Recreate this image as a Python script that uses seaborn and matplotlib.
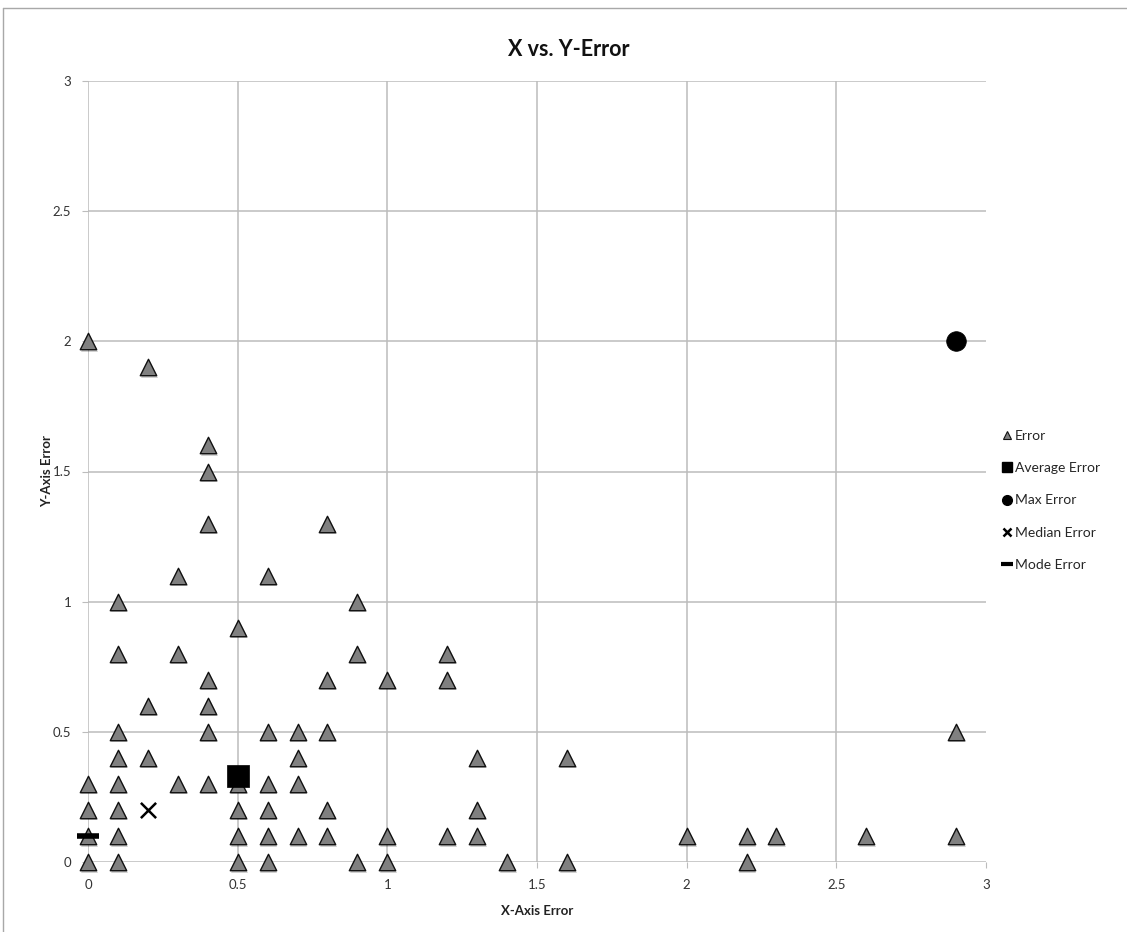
import matplotlib
matplotlib.use("Agg")
import matplotlib.pyplot as plt
from matplotlib.lines import Line2D
import seaborn as sns
import pandas as pd

# Individual error observations (x error, y error)
err_x = [0, 0, 0, 0, 0,
         0.1, 0.1, 0.1, 0.1, 0.1, 0.1, 0.1, 0.1,
         0.2, 0.2, 0.2,
         0.3, 0.3, 0.3,
         0.4, 0.4, 0.4, 0.4, 0.4, 0.4, 0.4,
         0.5, 0.5, 0.5, 0.5, 0.5,
         0.6, 0.6, 0.6, 0.6, 0.6, 0.6,
         0.7, 0.7, 0.7, 0.7,
         0.8, 0.8, 0.8, 0.8, 0.8,
         0.9, 0.9, 0.9,
         1.0, 1.0, 1.0,
         1.2, 1.2, 1.2,
         1.3, 1.3, 1.3,
         1.4,
         1.6, 1.6,
         2.0,
         2.2, 2.2,
         2.3,
         2.6,
         2.9, 2.9]
err_y = [2.0, 0.3, 0.2, 0.1, 0.0,
         1.0, 0.8, 0.5, 0.4, 0.3, 0.2, 0.1, 0.0,
         1.9, 0.6, 0.4,
         1.1, 0.8, 0.3,
         1.6, 1.5, 1.3, 0.7, 0.6, 0.5, 0.3,
         0.9, 0.3, 0.2, 0.1, 0.0,
         1.1, 0.5, 0.3, 0.2, 0.1, 0.0,
         0.5, 0.4, 0.3, 0.1,
         1.3, 0.7, 0.5, 0.2, 0.1,
         1.0, 0.8, 0.0,
         0.7, 0.1, 0.0,
         0.8, 0.7, 0.1,
         0.4, 0.2, 0.1,
         0.0,
         0.4, 0.0,
         0.1,
         0.1, 0.0,
         0.1,
         0.1,
         0.5, 0.1]

# Summary statistics
avg_x, avg_y = [0.5], [0.33]
max_x, max_y = [2.9], [2.0]
median_x, median_y = [0.2], [0.2]
mode_x, mode_y = [0.0], [0.1]

x_ticks = [0, 0.5, 1, 1.5, 2, 2.5, 3]
y_ticks = [0, 0.5, 1, 1.5, 2, 2.5, 3]
x_tick_labels = ["0", "0.5", "1", "1.5", "2", "2.5", "3"]
y_tick_labels = ["0", "0.5", "1", "1.5", "2", "2.5", "3"]

sns.set_theme(style="white")
plt.rcParams["font.family"] = ["Lato", "DejaVu Sans"]

fig = plt.figure(figsize=(11.27, 9.32), dpi=100)
ax = fig.add_axes([88 / 1127, 1 - 862 / 932, (986 - 88) / 1127, (862 - 81) / 932])

errors = pd.DataFrame({"x": err_x, "y": err_y})

# soft drop shadow under the triangles
sns.scatterplot(data=errors.assign(x=errors.x + 0.003, y=errors.y - 0.006), x="x", y="y",
                ax=ax, marker="^", s=150, color="#000000", alpha=0.18,
                linewidth=0, zorder=2, legend=False, clip_on=False)
sns.scatterplot(data=errors, x="x", y="y", ax=ax, marker="^", s=140,
                color="#808080", edgecolor="#111111", linewidth=1.0,
                zorder=3, legend=False, clip_on=False)

sns.scatterplot(x=avg_x, y=avg_y, ax=ax, marker="s", s=230, color="black",
                edgecolor="black", linewidth=0.5, zorder=5, legend=False, clip_on=False)
sns.scatterplot(x=max_x, y=max_y, ax=ax, marker="o", s=200, color="black",
                edgecolor="black", linewidth=0.5, zorder=5, legend=False, clip_on=False)
sns.scatterplot(x=median_x, y=median_y, ax=ax, marker="x", s=120, color="black",
                linewidth=1.8, zorder=5, legend=False, clip_on=False)
sns.scatterplot(x=mode_x, y=mode_y, ax=ax, marker="_", s=260, color="black",
                linewidth=4.0, zorder=5, legend=False, clip_on=False)

ax.set_xlim(0, 3)
ax.set_ylim(0, 3)
ax.set_xticks(x_ticks)
ax.set_xticklabels(x_tick_labels)
ax.set_yticks(y_ticks)
ax.set_yticklabels(y_tick_labels)
ax.grid(True, color="#bcbcbc", linewidth=1.1)
ax.get_xgridlines()[-1].set_visible(False)
ax.set_axisbelow(True)
for side in ["top", "right", "left", "bottom"]:
    ax.spines[side].set_visible(False)
ax.tick_params(axis="both", which="both", length=4, width=0.8, color="#bcbcbc",
               labelsize=9.5, labelcolor="#333333", pad=8, direction="out",
               bottom=True, left=True)
ax.set_xlabel("X-Axis Error", fontsize=9.5, fontweight="bold", color="#222222", labelpad=10)
ax.set_ylabel("Y-Axis Error", fontsize=9.5, fontweight="bold", color="#222222", labelpad=0)

fig.suptitle("X vs. Y-Error", x=0.505, y=0.958, fontsize=15.5, fontweight="bold",
             color="#111111")

handles = [
    Line2D([], [], linestyle="none", marker="^", markersize=6, markerfacecolor="#808080",
           markeredgecolor="#111111", markeredgewidth=0.8),
    Line2D([], [], linestyle="none", marker="s", markersize=7, color="black"),
    Line2D([], [], linestyle="none", marker="o", markersize=7, color="black"),
    Line2D([], [], linestyle="none", marker="x", markersize=6, color="black",
           markeredgewidth=1.8),
    Line2D([], [], linestyle="none", marker="_", markersize=8, color="black",
           markeredgewidth=3),
]
labels = ["Error", "Average Error", "Max Error", "Median Error", "Mode Error"]
fig.legend(handles, labels, loc="center left", bbox_to_anchor=(0.884, 0.463),
           frameon=False, fontsize=10, labelspacing=1.45, handlelength=0.6,
           handletextpad=0.25, borderpad=0)

# chart area frame
fig.add_artist(Line2D([3 / 1127, 3 / 1127], [0, 1 - 8 / 932], color="#a8a8a8",
                      linewidth=1.0, transform=fig.transFigure))
fig.add_artist(Line2D([3 / 1127, 1], [1 - 8 / 932, 1 - 8 / 932], color="#a8a8a8",
                      linewidth=1.0, transform=fig.transFigure))

fig.savefig("out.png", dpi=100)
